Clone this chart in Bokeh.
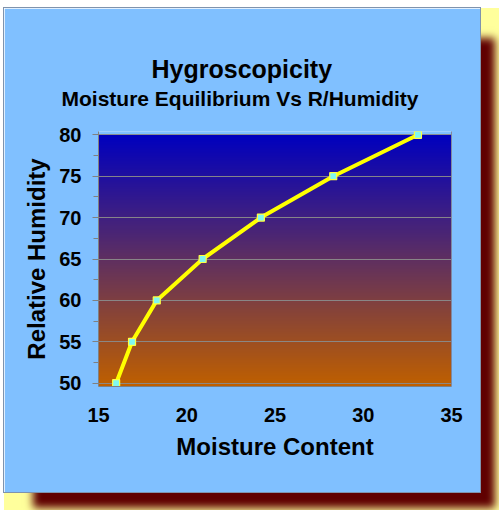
import numpy as np
from bokeh.plotting import figure
from bokeh.models import Range1d, SingleIntervalTicker, Title, LinearAxis, ColumnDataSource
from bokeh.embed import file_html
from bokeh.resources import INLINE

# ---- data ----
moisture = [16.0, 16.9, 18.3, 20.9, 24.2, 28.3, 33.1]
humidity = [50, 55, 60, 65, 70, 75, 80]
x_start, x_end, x_step = 15, 35, 5
y_start, y_end, y_step = 50, 80, 5
title_text = "Hygroscopicity"
subtitle_text = "Moisture Equilibrium Vs R/Humidity"
x_label = "Moisture Content"
y_label = "Relative Humidity"

PANEL = "#80C0FF"
FONT = "Liberation Sans"
PAD = 0.4

p = figure(width=476, height=484, output_backend="svg", toolbar_location=None,
           x_range=Range1d(x_start, x_end),
           y_range=Range1d(y_start - PAD, y_end + PAD),
           min_border_left=94, min_border_right=29,
           min_border_top=123, min_border_bottom=106,
           background_fill_color=PANEL, border_fill_color=PANEL)
p.outline_line_color = None
p.styles = {
    "margin-left": "4px",
    "margin-top": "8px",
    "box-shadow": "0 0 0 1px #7f93ad, 22px 23px 8px -7px #600000, 10px 10px 0 10px #ffff9c",
}

# vertical gradient backdrop (orange at bottom -> dark blue at top)
N = 256
img = np.empty((N, 1), dtype=np.uint32)
view = img.view(dtype=np.uint8).reshape((N, 1, 4))
bottom = np.array([192, 96, 0], dtype=float)
top = np.array([0, 0, 192], dtype=float)
for i in range(N):
    t = i / (N - 1)
    c = bottom * (1 - t) + top * t
    view[i, 0, :3] = c.astype(np.uint8)
    view[i, 0, 3] = 255
p.image_rgba(image=[img], x=x_start, y=y_start - PAD, dw=x_end - x_start,
             dh=y_end - (y_start - PAD), level="image")

# grid
p.xgrid.visible = False
p.ygrid.grid_line_color = "#8a8a8a"
p.ygrid.grid_line_alpha = 0.95
p.ygrid.grid_line_width = 1

# axes
p.xaxis.ticker = SingleIntervalTicker(interval=x_step, num_minor_ticks=0)
p.yaxis.ticker = SingleIntervalTicker(interval=y_step, num_minor_ticks=2)
for ax in (p.xaxis[0], p.yaxis[0]):
    ax.axis_line_color = "#808080"
    ax.major_tick_line_color = "#808080"
    ax.minor_tick_line_color = "#808080"
    ax.major_label_text_font = FONT
    ax.major_label_text_font_style = "bold"
    ax.major_label_text_font_size = "20px"
    ax.major_label_text_color = "black"
    ax.axis_label_text_font = FONT
    ax.axis_label_text_font_style = "bold"
    ax.axis_label_text_font_size = "24px"
    ax.axis_label_text_color = "black"
p.xaxis.major_tick_out = 0
p.xaxis.major_tick_in = 0
p.xaxis.minor_tick_out = 0
p.xaxis.major_label_standoff = 21
p.xaxis.axis_label = x_label
p.xaxis.axis_label_standoff = 8
p.yaxis.major_tick_out = 6
p.yaxis.major_tick_in = 0
p.yaxis.minor_tick_out = 5
p.yaxis.minor_tick_in = 0
p.yaxis.major_label_standoff = 11
p.yaxis.axis_label = y_label
p.yaxis.axis_label_standoff = 6

right = LinearAxis(ticker=SingleIntervalTicker(interval=100), major_tick_out=0, major_tick_in=0,
                   minor_tick_out=0, major_label_text_font_size="0px",
                   axis_line_color="#8088a0")
p.add_layout(right, "right")

# series
src = ColumnDataSource(dict(x=moisture, y=humidity))
p.line("x", "y", source=src, line_color="#FFFF00", line_width=4)
p.scatter("x", "y", source=src, marker="square", size=7, fill_color="#80F8F0",
          line_color="#FFFF40", line_width=1.2)

# titles: spacer nearest the frame, then subtitle, then main title
spacer = Title(text=" ", standoff=16, text_font_size="2px", text_color=PANEL)
sub = Title(text=subtitle_text, align="left", offset=-37, standoff=4,
            text_font=FONT, text_font_style="bold", text_font_size="21px",
            text_color="black")
main = Title(text=title_text, align="left", offset=53, standoff=0,
             text_font=FONT, text_font_style="bold", text_font_size="25px",
             text_color="black")
p.add_layout(spacer, "above")
p.add_layout(sub, "above")
p.add_layout(main, "above")

open("out.html", "w").write(file_html(p, INLINE))
